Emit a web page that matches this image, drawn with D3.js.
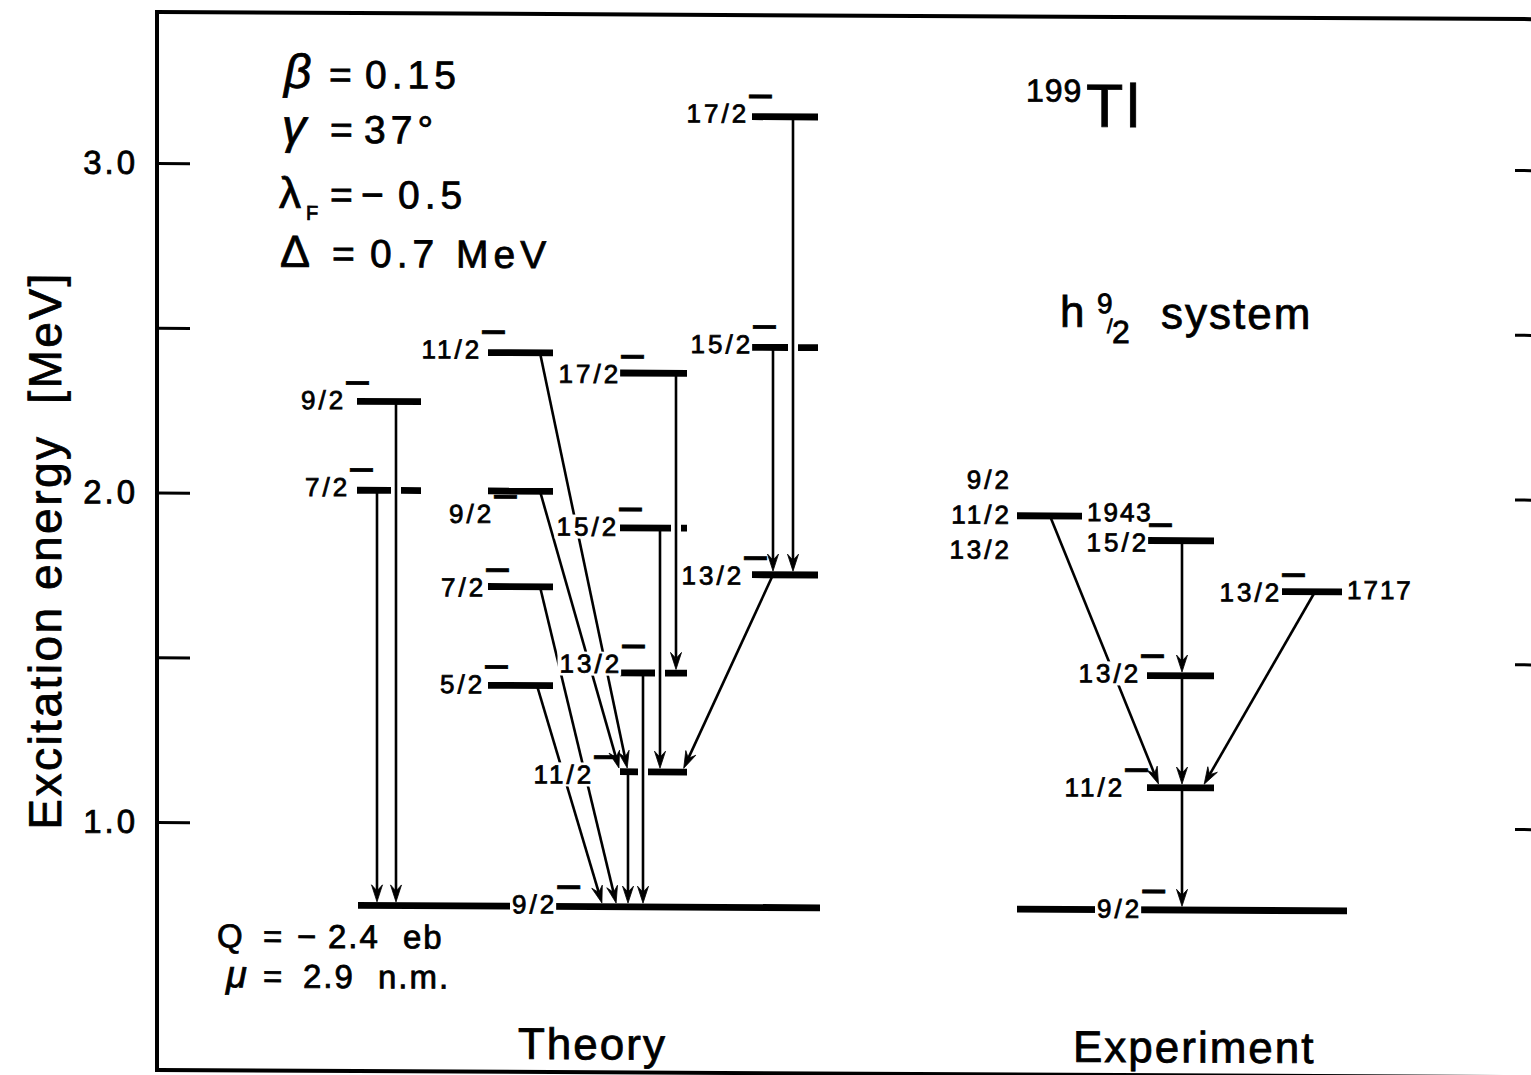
<!DOCTYPE html>
<html>
<head>
<meta charset="utf-8">
<script src="https://cdn.jsdelivr.net/npm/d3@7"></script>
<style>
  html, body { margin: 0; padding: 0; background: #fff; }
  svg { display: block; }
  text { font-family: "Liberation Sans", Arial, Helvetica, sans-serif; fill: #000; stroke: #000; stroke-width: 0.8px; }
</style>
</head>
<body>
<svg id="chart" width="1531" height="1075"></svg>
<script>
// ---------------- data ----------------
const tickValues = [1.0, 1.5, 2.0, 2.5, 3.0];
const tickLabels = ["1.0", "", "2.0", "", "3.0"];

// Calculated h9/2 levels: spin, energy (MeV), parity
const theorySpins    = ["9/2", "9/2", "7/2", "11/2", "9/2", "7/2", "5/2", "17/2", "15/2", "13/2", "11/2", "17/2", "15/2", "13/2"];
const theoryEnergies = [0.75, 2.28, 2.01, 2.43, 2.01, 1.72, 1.42, 2.37, 1.90, 1.46, 1.16, 3.15, 2.45, 1.76];
const theoryParity   = ["−", "−", "−", "−", "−", "−", "−", "−", "−", "−", "−", "−", "−", "−"];
// gamma transitions as [from, to] level indices
const theoryTransitions = [[1, 0], [2, 0], [3, 10], [4, 10], [5, 0], [6, 0], [10, 0], [9, 0], [7, 9], [8, 10], [11, 13], [12, 13], [13, 10]];

// Measured levels
const expSpins    = [["9/2"], ["11/2"], ["13/2"], ["15/2"], ["9/2", "11/2", "13/2"], ["13/2"]];
const expEnergies = [0.749, 1.12, 1.46, 1.87, 1.943, 1.717];
const expParity   = ["−", "−", "−", "−", "", "−"];
const expShowEnergy = [false, false, false, false, true, true];
const expTransitions = [[4, 1], [3, 2], [2, 1], [1, 0], [5, 1]];

// ---------------- layout ----------------
const colX = {
  G: [358, 820], A: [357, 421], B: [488, 553], C: [620, 687], D: [752, 818],
  EG: [1017, 1347], E: [1147, 1214], EL: [1017, 1082], ER: [1282, 1342]
};
const theoryCols    = ["G", "A", "A", "B", "B", "B", "B", "C", "C", "C", "C", "D", "D", "D"];
const theoryLabelDx = [0, 14, 18, 19, 31, 23, 22, 26, 24, 27, -1, 22, 26, 17];
const theoryLabelDy = [7, 8, 6, 6, 32, 10, 8, 10, 8, 0, 12, 6, 6, 10];
const theoryArrowX  = [[396, 396], [377, 377], [540, 628], [540, 620], [540, 617], [537, 603],
                       [628, 628], [643, 643], [676, 676], [660, 660], [793, 793], [773, 773], [773, 682]];
const expCols    = ["EG", "E", "E", "E", "EL", "ER"];
const expLabelDx = [0, 3, 19, 27, -5, 25];
const expLabelDy = [8, 9, 7, 11, 8, 10];
const expArrowX  = [[1050, 1160], [1182, 1182], [1182, 1182], [1182, 1182], [1315, 1202]];

const frame = { left: 157, right: 1548, top: 12, bottom: 1070 };
const LEVEL_W = 6.8, LINE_W = 2.6, LABEL_FS = 26, PAR_FS = 46;

// ---------------- drawing ----------------
const svg = d3.select("#chart");
const skew = 0.0052;
const root = svg.append("g")
  .attr("transform", `translate(0,${-frame.left * skew}) skewY(${Math.atan(skew) * 180 / Math.PI})`);

const y = d3.scaleLinear().domain([1, 3]).range([822, 163]);
const line = d3.line();

// frame
root.append("rect")
  .attr("x", frame.left).attr("y", frame.top)
  .attr("width", frame.right - frame.left).attr("height", frame.bottom - frame.top)
  .attr("fill", "none").attr("stroke", "#000").attr("stroke-width", 4);

// axes: ticks point into the frame
const leftAxis = d3.axisLeft(y).tickValues(tickValues).tickSizeInner(-33).tickSizeOuter(0)
  .tickPadding(19).tickFormat((d, i) => tickLabels[i]);
const gl = root.append("g").attr("transform", `translate(${frame.left},0)`).call(leftAxis);
gl.select(".domain").remove();
gl.selectAll(".tick line").attr("stroke-width", 3);
gl.selectAll(".tick text").attr("font-size", 33).attr("letter-spacing", 3)
  .attr("font-family", "Liberation Sans, Arial, sans-serif");

const rightAxis = d3.axisRight(y).tickValues(tickValues).tickSizeInner(-33).tickSizeOuter(0).tickFormat("");
const gr = root.append("g").attr("transform", `translate(${frame.right},0)`).call(rightAxis);
gr.select(".domain").remove();
gr.selectAll(".tick line").attr("stroke-width", 3);

// axis title
root.append("text")
  .attr("transform", "translate(61,551) rotate(-90)")
  .attr("text-anchor", "middle").attr("font-size", 46).attr("letter-spacing", 2.5)
  .text("Excitation energy \u00a0[MeV]");

const gLevels = root.append("g");
const gTrans = root.append("g");
const gLabels = root.append("g");

function drawArrow(xa, ya, xb, yb) {
  const yt = yb - LEVEL_W / 2 - 0.3;
  const t = (yt - ya) / (yb - ya);
  const xt = xa + (xb - xa) * t;
  const ang = Math.atan2(yt - ya, xt - xa);
  const c = Math.cos(ang), s = Math.sin(ang);
  const L = 17, hw = 5.5, notch = 11;
  gTrans.append("path").attr("d", line([[xa, ya], [xt - notch * c, yt - notch * s]]))
    .attr("stroke", "#000").attr("stroke-width", LINE_W).attr("fill", "none");
  const bx = xt - L * c, by = yt - L * s;
  gTrans.append("path")
    .attr("d", line([[bx - s * hw, by + c * hw], [xt, yt], [bx + s * hw, by - c * hw], [xt - notch * c, yt - notch * s]]) + "Z")
    .attr("fill", "#000").attr("stroke", "#000").attr("stroke-width", 0.8).attr("stroke-linejoin", "miter");
}

// spin label with parity sign; a white box behind the digits opens the lines beneath it
function spinLabel(x, yb, spin, par, anchor) {
  const g = gLabels.append("g");
  const box = g.append("rect").attr("fill", "#fff");
  const t = g.append("text").attr("x", x).attr("y", yb).attr("font-size", LABEL_FS)
    .attr("text-anchor", anchor);
  t.append("tspan").attr("letter-spacing", 3).text(spin);
  if (par) t.append("tspan").attr("font-size", PAR_FS).attr("dy", -11).attr("dx", -2).text(par);
  const n = t.node();
  const a = n.getStartPositionOfChar(0).x;
  const b = n.getEndPositionOfChar(spin.length - 1).x - 3;
  box.attr("x", a - 2).attr("y", yb - 21).attr("width", b - a + 4).attr("height", 24);
}

function drawScheme(o) {
  const levels = o.energies.map((E, i) => ({
    i, E, y: y(E), x0: colX[o.cols[i]][0], x1: colX[o.cols[i]][1], cuts: []
  }));

  // a level is interrupted where a transition passes through it
  o.transitions.forEach(([f, t], k) => {
    const [xa, xb] = o.arrowX[k];
    const ya = levels[f].y, yb = levels[t].y;
    levels.forEach(L => {
      if (L.i === f || L.i === t) return;
      if (L.y > Math.min(ya, yb) + 1 && L.y < Math.max(ya, yb) - 1) {
        const xc = xa + (xb - xa) * (L.y - ya) / (yb - ya);
        if (xc > L.x0 - 2 && xc < L.x1 + 2) L.cuts.push([xc - 5, xc + 5]);
      }
    });
  });

  // levels as heavy bars, split at the cuts
  levels.forEach(L => {
    const cuts = L.cuts.slice().sort((a, b) => a[0] - b[0]);
    let s = L.x0;
    const segs = [];
    cuts.forEach(([a, b]) => { if (a > s) segs.push([s, a]); s = Math.max(s, b); });
    if (L.x1 > s) segs.push([s, L.x1]);
    segs.forEach(([a, b]) => {
      gLevels.append("path").attr("d", line([[a, L.y], [b, L.y]]))
        .attr("stroke", "#000").attr("stroke-width", LEVEL_W).attr("fill", "none");
    });
  });

  // transitions
  o.transitions.forEach(([f, t], k) => {
    const [xa, xb] = o.arrowX[k];
    drawArrow(xa, levels[f].y, xb, levels[t].y);
  });

  // labels
  levels.forEach(L => {
    const spin = [].concat(o.spins[L.i]);
    const par = o.parity[L.i];
    if (L.i === 0) {
      // ground state: label sits inside the level line
      spinLabel(o.groundLabelX, L.y + o.labelDy[0], spin[0], par, "start");
    } else if (spin.length > 1) {
      spin.forEach((s, j) => {
        gLabels.append("text").attr("x", L.x0 + o.labelDx[L.i])
          .attr("y", L.y + (j - 1) * 35 + o.labelDy[L.i])
          .attr("text-anchor", "end").attr("font-size", LABEL_FS).attr("letter-spacing", 3)
          .text(s);
      });
    } else {
      spinLabel(L.x0 + o.labelDx[L.i], L.y + o.labelDy[L.i], spin[0], par, "end");
    }
    if (o.showEnergy && o.showEnergy[L.i]) {
      gLabels.append("text").attr("x", L.x1 + 5).attr("y", L.y + o.labelDy[L.i] - 3)
        .attr("font-size", LABEL_FS).attr("letter-spacing", 2)
        .text(Math.round(L.E * 1000));
    }
  });
}

drawScheme({
  spins: theorySpins, energies: theoryEnergies, parity: theoryParity, cols: theoryCols,
  labelDx: theoryLabelDx, labelDy: theoryLabelDy, transitions: theoryTransitions,
  arrowX: theoryArrowX, groundLabelX: 512
});
drawScheme({
  spins: expSpins, energies: expEnergies, parity: expParity, cols: expCols,
  labelDx: expLabelDx, labelDy: expLabelDy, transitions: expTransitions,
  arrowX: expArrowX, groundLabelX: 1097, showEnergy: expShowEnergy
});

// model parameters
const PFS = 39;
function paramLine(yb, parts) {
  const t = root.append("text").attr("y", yb).attr("font-size", PFS).attr("letter-spacing", 5);
  parts.forEach(p => {
    const ts = t.append("tspan").text(p.s);
    if (p.x !== undefined) ts.attr("x", p.x);
    if (p.fs) ts.attr("font-size", p.fs);
    if (p.it) ts.attr("font-style", "italic");
    if (p.dy) ts.attr("dy", p.dy);
  });
}
paramLine(87, [{ s: "β", x: 284, fs: 48, it: true }, { s: "=", x: 329 }, { s: "0.15", x: 365 }]);
paramLine(142, [{ s: "γ", x: 282, fs: 48, it: true }, { s: "=", x: 330 }, { s: "37°", x: 364 }]);
paramLine(207, [{ s: "λ", x: 279, fs: 44 }, { s: "F", x: 306, fs: 20, dy: 12 }, { s: "=", x: 330, dy: -12 },
                { s: "−", x: 361 }, { s: "0.5", x: 398 }]);
paramLine(266, [{ s: "Δ", x: 280, fs: 45 }, { s: "=", x: 332 }, { s: "0.7", x: 370 }, { s: "MeV", x: 456 }]);

// moments of the band head
function smallLine(yb, parts) {
  const t = root.append("text").attr("y", yb).attr("font-size", 33).attr("letter-spacing", 2);
  parts.forEach(p => {
    const ts = t.append("tspan").attr("x", p.x).text(p.s);
    if (p.fs) ts.attr("font-size", p.fs);
    if (p.it) ts.attr("font-style", "italic");
  });
}
smallLine(947, [{ s: "Q", x: 217 }, { s: "=", x: 263 }, { s: "−", x: 297 }, { s: "2.4", x: 328 }, { s: "eb", x: 403 }]);
smallLine(987, [{ s: "μ", x: 226, fs: 38, it: true }, { s: "=", x: 263 }, { s: "2.9", x: 303 }, { s: "n.m.", x: 378 }]);

// nucleus and configuration
const nuc = root.append("text");
nuc.append("tspan").attr("x", 1026).attr("y", 97).attr("font-size", 32).attr("letter-spacing", 1).text("199");
nuc.append("tspan").attr("x", 1086).attr("y", 122).attr("font-size", 61).attr("letter-spacing", 3).text("Tl");

const cfgText = root.append("text").attr("font-size", 44);
cfgText.append("tspan").attr("x", 1060).attr("y", 322).text("h");
cfgText.append("tspan").attr("x", 1097).attr("y", 308).attr("font-size", 28).text("9");
cfgText.append("tspan").attr("x", 1107).attr("y", 328).attr("font-size", 20).text("/");
cfgText.append("tspan").attr("x", 1112).attr("y", 338).attr("font-size", 32).text("2");
cfgText.append("tspan").attr("x", 1161).attr("y", 323).attr("letter-spacing", 2).text("system");

// column titles
root.append("text").attr("x", 518).attr("y", 1057).attr("font-size", 44).attr("letter-spacing", 2).text("Theory");
root.append("text").attr("x", 1073).attr("y", 1057).attr("font-size", 44).attr("letter-spacing", 2).text("Experiment");
</script>
</body>
</html>
